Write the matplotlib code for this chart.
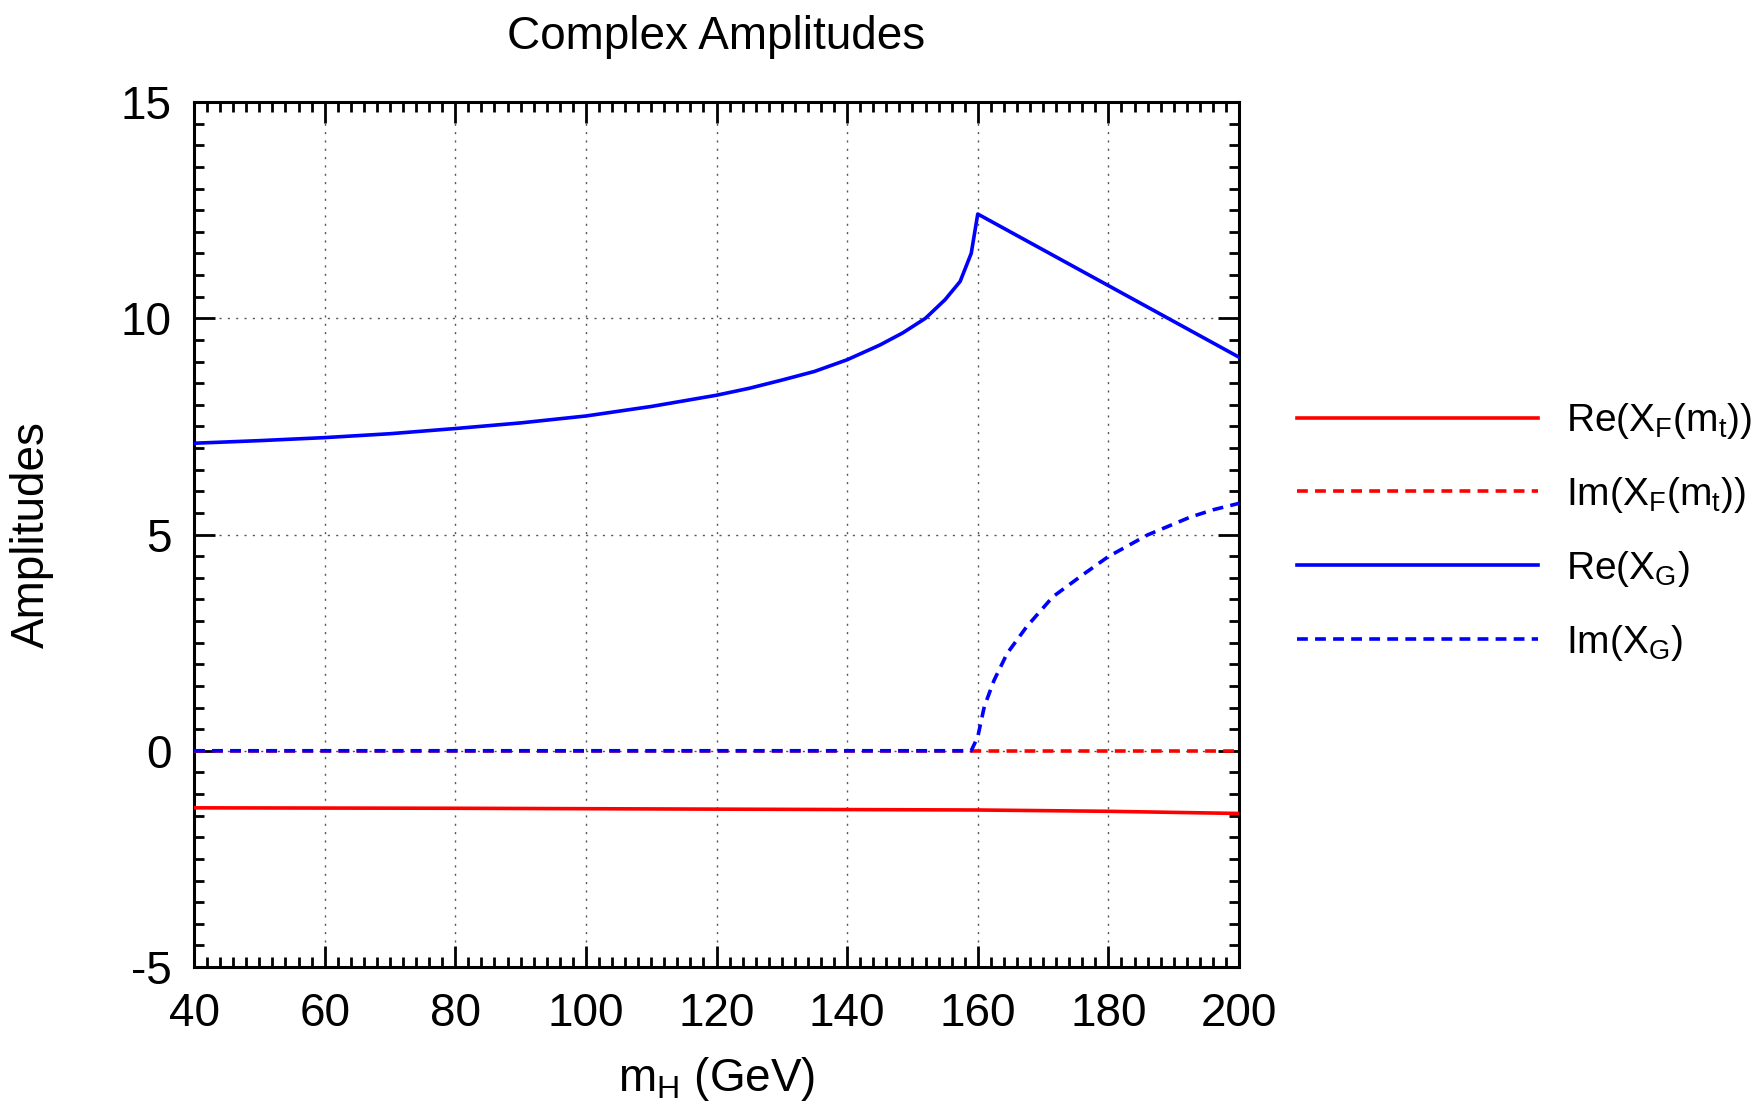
import matplotlib
matplotlib.use("Agg")
import matplotlib.pyplot as plt
from matplotlib.ticker import MultipleLocator

plt.rcParams['font.family'] = ['Liberation Sans', 'DejaVu Sans']
plt.rcParams['mathtext.default'] = 'regular'
plt.rcParams['axes.unicode_minus'] = False

# Higgs mass grid points (GeV) and amplitude values
mh_re_xf = [40, 80, 120, 160, 180, 200]
re_xf = [-1.32, -1.33, -1.35, -1.37, -1.40, -1.45]

mh_im_xf = [40, 200]
im_xf = [0.0, 0.0]

mh_re_xg = [40, 50, 60, 70, 80, 90, 100, 110, 120, 125, 130, 135, 140, 145,
            148.5, 152, 155, 157.3, 159, 160, 200]
re_xg = [7.11, 7.17, 7.24, 7.33, 7.45, 7.58, 7.74, 7.96, 8.22, 8.38, 8.57, 8.77,
         9.04, 9.38, 9.66, 10.0, 10.43, 10.85, 11.5, 12.41, 9.10]

mh_im_xg = [40, 159, 160, 161, 162.5, 164.5, 167.5, 171.5, 176, 180, 186, 192.5,
            196, 200]
im_xg = [0.0, 0.0, 0.32, 1.02, 1.63, 2.25, 2.87, 3.56, 4.06, 4.49, 4.99, 5.40,
         5.57, 5.72]

labels = [r'Re(X$_F$(m$_t$))', r'Im(X$_F$(m$_t$))', r'Re(X$_G$)', r'Im(X$_G$)']

W, H = 1754, 1107
fig = plt.figure(figsize=(W / 100, H / 100), dpi=100)
ax = fig.add_axes([194 / W, 1 - 967 / H, 1045 / W, 865 / H])

lw = 2.6
dash = (3.0, 2.0)
ax.plot(mh_re_xf, re_xf, color='#ff0000', lw=lw, label=labels[0], zorder=3)
ax.plot(mh_im_xf, im_xf, color='#ff0000', lw=lw, dashes=dash, label=labels[1], zorder=3)
ax.plot(mh_re_xg, re_xg, color='#0000ff', lw=lw, label=labels[2], zorder=4)
ax.plot(mh_im_xg, im_xg, color='#0000ff', lw=lw, dashes=dash, label=labels[3], zorder=4)

ax.set_xlim(40, 200)
ax.set_ylim(-5, 15)
ax.xaxis.set_major_locator(MultipleLocator(20))
ax.xaxis.set_minor_locator(MultipleLocator(2))
ax.yaxis.set_major_locator(MultipleLocator(5))
ax.yaxis.set_minor_locator(MultipleLocator(0.5))

ax.grid(True, which='major', color='#555555', lw=1.0, linestyle=(0, (1.5, 4.5)), zorder=1)

for s in ax.spines.values():
    s.set_linewidth(2.2)
ax.tick_params(which='both', direction='in', top=True, right=True, width=2.0,
               labelsize=33, color='black')
ax.tick_params(which='major', length=15)
ax.tick_params(which='minor', length=7.2)
ax.tick_params(axis='x', which='major', pad=18)
ax.tick_params(axis='y', which='major', pad=16)

ax.set_title('Complex Amplitudes', fontsize=33, pad=38)
ax.set_xlabel(r'm$_H$ (GeV)', fontsize=33, labelpad=14)
ax.set_ylabel('Amplitudes', fontsize=33, labelpad=48)

ax.legend(loc='center left', bbox_to_anchor=(1297 / W, 1 - 532 / H),
          bbox_transform=fig.transFigure, frameon=False, fontsize=28,
          handlelength=6.2, handletextpad=0.72, labelspacing=0.87,
          borderaxespad=0, borderpad=0)

fig.savefig('out.png', dpi=100)
